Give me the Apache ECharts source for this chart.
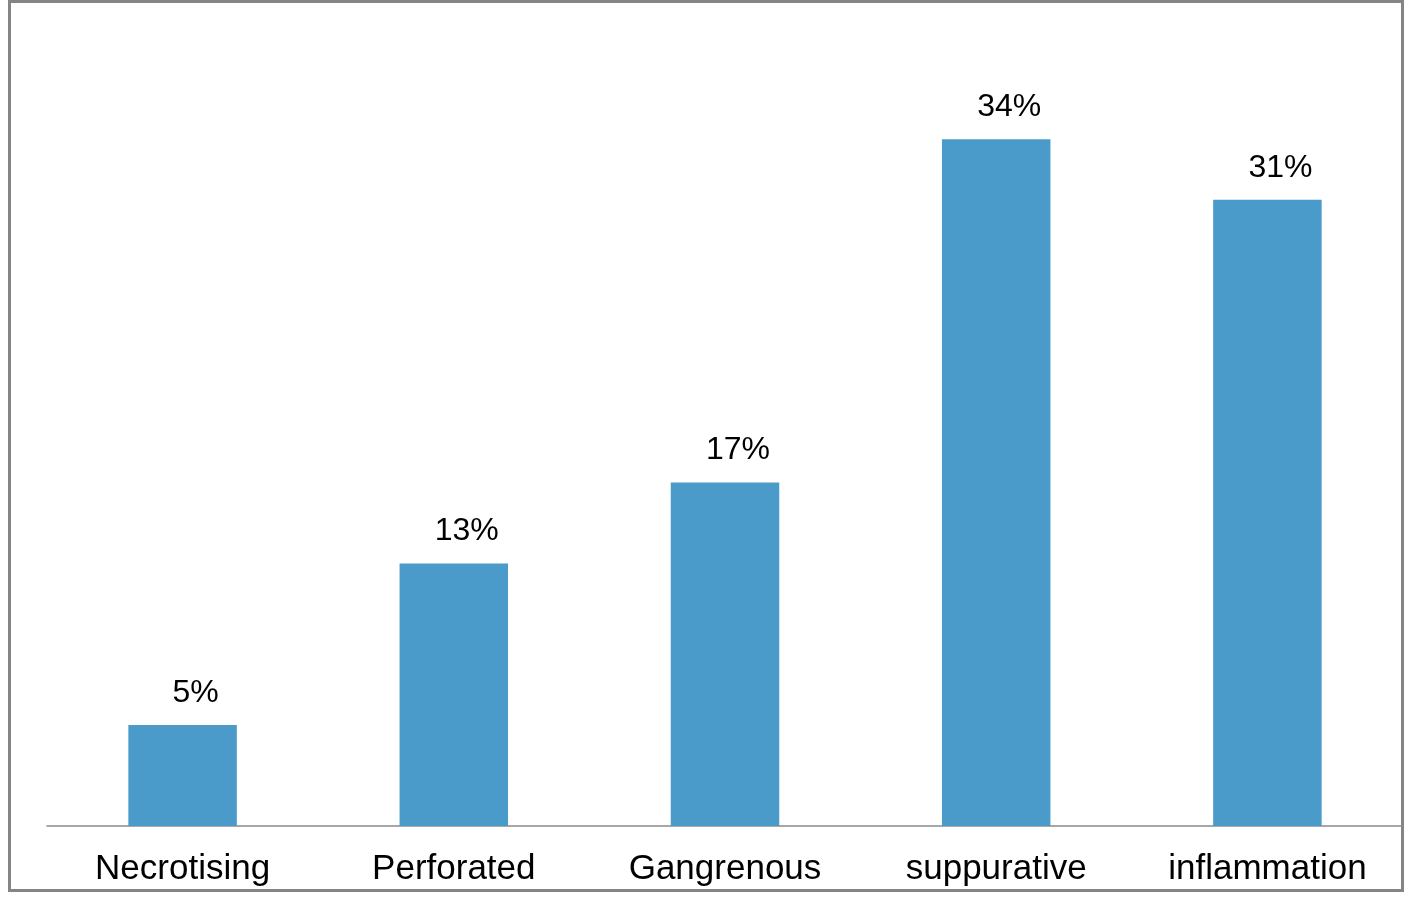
<!DOCTYPE html>
<html>
<head>
<meta charset="utf-8">
<script src="https://cdn.jsdelivr.net/npm/echarts@6/dist/echarts.min.js"></script>
<style>
html,body{margin:0;padding:0;background:#fff;}
#chart{width:1417px;height:907px;}
</style>
</head>
<body>
<div id="chart"></div>
<script>
const categories = ['Necrotising', 'Perforated', 'Gangrenous', 'suppurative', 'inflammation'];
const values = [5, 13, 17, 34, 31];

const chart = echarts.init(document.getElementById('chart'));
chart.setOption({
  animation: false,
  backgroundColor: '#ffffff',
  textStyle: { fontFamily: 'Liberation Sans, Arial, sans-serif' },
  graphic: [{
    type: 'rect',
    shape: { x: 9.5, y: 1.5, width: 1393, height: 889 },
    style: { fill: 'none', stroke: '#858585', lineWidth: 3 },
    silent: true
  }],
  grid: { left: 47, right: 14, top: 18, bottom: 81, containLabel: false },
  xAxis: {
    type: 'category',
    data: categories,
    axisLine: { show: true, lineStyle: { color: '#8a8a8a', width: 1.5 } },
    axisTick: { show: false },
    axisLabel: {
      color: '#000',
      fontSize: 35,
      margin: 26,
      fontFamily: 'Liberation Sans, Arial, sans-serif'
    }
  },
  yAxis: {
    type: 'value',
    min: 0,
    max: 40,
    interval: 10,
    axisLine: { show: false },
    axisTick: { show: false },
    axisLabel: { show: false },
    splitLine: { show: false }
  },
  series: [{
    type: 'bar',
    data: values,
    barWidth: '40%',
    itemStyle: { color: '#4A9BCA' },
    label: {
      show: true,
      position: 'top',
      distance: 16,
      offset: [13, 0],
      color: '#000',
      fontSize: 32,
      fontFamily: 'Liberation Sans, Arial, sans-serif',
      formatter: p => p.value + '%'
    }
  }]
});
</script>
</body>
</html>
